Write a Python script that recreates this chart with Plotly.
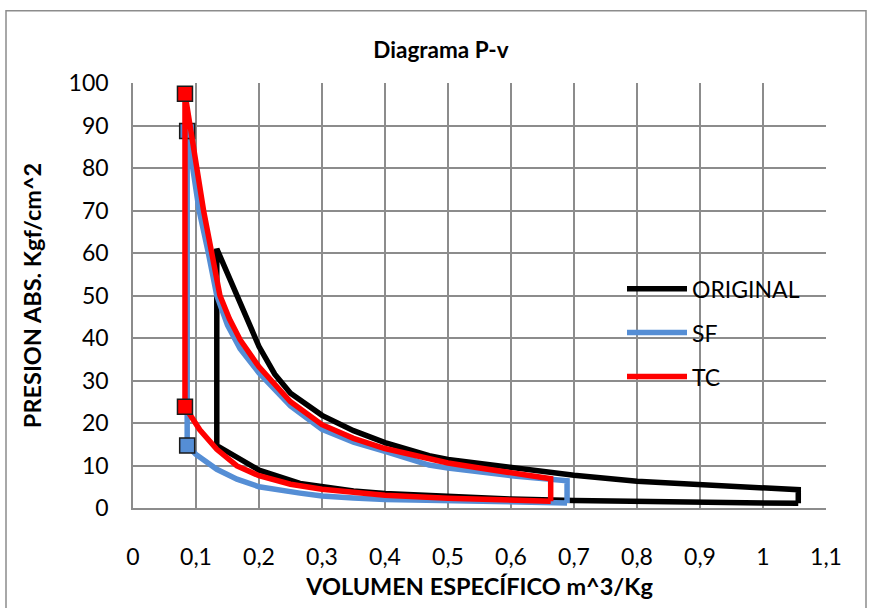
import plotly.graph_objects as go

# ---- data (v in m^3/Kg, P in Kgf/cm^2) ----
ORIG_V = [1.056, 0.9, 0.8, 0.7, 0.6, 0.5, 0.4, 0.35, 0.3, 0.265, 0.2, 0.165, 0.133,
          0.133, 0.15, 0.17, 0.2, 0.225, 0.25, 0.3, 0.35, 0.4, 0.47, 0.5, 0.6, 0.7,
          0.8, 0.9, 1.0, 1.056, 1.056]
ORIG_P = [1.1, 1.3, 1.5, 1.75, 2.1, 2.7, 3.4, 4.0, 4.9, 5.8, 8.9, 11.8, 14.7,
          61, 55, 48, 38, 31.5, 27, 21.8, 18.2, 15.4, 12.3, 11.4, 9.4, 7.7,
          6.3, 5.4, 4.7, 4.3, 1.1]

SF_V = [0.689, 0.6, 0.5, 0.4, 0.35, 0.3, 0.265, 0.2, 0.165, 0.133, 0.1, 0.086,
        0.086, 0.0958, 0.105, 0.1196, 0.133, 0.15, 0.17, 0.2, 0.25, 0.3, 0.35,
        0.4, 0.47, 0.5, 0.6, 0.689, 0.689]
SF_P = [1.2, 1.35, 1.6, 2.0, 2.35, 2.8, 3.5, 5.0, 6.8, 9.1, 12.6, 14.7,
        88.7, 80, 70, 60, 50, 43, 37.5, 31.8, 24, 18.5, 15.5,
        13.3, 10.1, 9.4, 7.6, 6.4, 1.2]
SF_MARK = [11, 12]

TC_V = [0.663, 0.6, 0.5, 0.4, 0.35, 0.3, 0.25, 0.2, 0.165, 0.133, 0.106, 0.0825,
        0.0825, 0.0905, 0.101, 0.112, 0.125, 0.138, 0.153, 0.17, 0.2, 0.25, 0.3,
        0.35, 0.4, 0.45, 0.5, 0.55, 0.6, 0.663, 0.663]
TC_P = [1.6, 1.8, 2.3, 3.0, 3.6, 4.4, 5.6, 7.6, 9.9, 13.8, 18.4, 23.8,
        97.5, 90, 80, 70, 60, 50, 44.5, 39.6, 33.2, 25, 19.6,
        16.4, 14.0, 12.2, 10.6, 9.4, 8.3, 6.9, 1.6]
TC_MARK = [11, 12]

X_TICKS = [0, 0.1, 0.2, 0.3, 0.4, 0.5, 0.6, 0.7, 0.8, 0.9, 1.0, 1.1]
X_LABELS = ["0", "0,1", "0,2", "0,3", "0,4", "0,5", "0,6", "0,7", "0,8", "0,9", "1", "1,1"]
Y_TICKS = [0, 10, 20, 30, 40, 50, 60, 70, 80, 90, 100]

BLACK = "#000000"
BLUE = "#558ED5"
RED = "#FF0000"
GRID = "#8C8C8C"
FONT = "Lato, 'Open Sans', sans-serif"

fig = go.Figure()

fig.add_trace(go.Scatter(x=ORIG_V, y=ORIG_P, mode="lines", name="ORIGINAL",
                         line=dict(color=BLACK, width=5.5), legendgroup="a"))
fig.add_trace(go.Scatter(x=SF_V, y=SF_P, mode="lines", name="SF",
                         line=dict(color=BLUE, width=5.5), legendgroup="b"))
fig.add_trace(go.Scatter(x=[SF_V[i] for i in SF_MARK], y=[SF_P[i] for i in SF_MARK],
                         mode="markers", showlegend=False, hoverinfo="skip",
                         marker=dict(symbol="square", size=15, color=BLUE,
                                     line=dict(color="#1a1a1a", width=1.5))))
fig.add_trace(go.Scatter(x=TC_V, y=TC_P, mode="lines", name="TC",
                         line=dict(color=RED, width=5.5), legendgroup="c"))
fig.add_trace(go.Scatter(x=[TC_V[i] for i in TC_MARK], y=[TC_P[i] for i in TC_MARK],
                         mode="markers", showlegend=False, hoverinfo="skip",
                         marker=dict(symbol="square", size=15, color=RED,
                                     line=dict(color="#1a1a1a", width=1.5))))

W, H = 871, 608
L, T = 133, 83
R = W - 826
B = H - 512
pw, ph = W - L - R, H - T - B


def px_x(p):  # window pixel -> paper
    return (p - L) / pw


def px_y(p):
    return (H - B - p) / ph


fig.update_layout(
    width=W, height=H,
    margin=dict(l=L, r=R, t=T, b=B),
    paper_bgcolor="white", plot_bgcolor="white",
    font=dict(family=FONT, size=23, color="black"),
    title=dict(text="<b>Diagrama P-v</b>", x=441 / W, xanchor="center",
               y=1 - 50 / H, yanchor="middle", font=dict(size=22.5, family=FONT)),
    xaxis=dict(range=[0, 1.1], tickvals=X_TICKS, ticktext=X_LABELS,
               showgrid=True, gridcolor=GRID, gridwidth=1.5,
               showline=True, linecolor=GRID, linewidth=1.5, zeroline=False,
               ticks="outside", ticklen=28, tickcolor="rgba(0,0,0,0)",
               tickfont=dict(size=23),
               title=dict(text="<b>VOLUMEN ESPECÍFICO m^3/Kg</b>", standoff=9,
                          font=dict(size=23.5))),
    yaxis=dict(range=[0, 100], tickvals=Y_TICKS,
               showgrid=True, gridcolor=GRID, gridwidth=1.5,
               showline=True, linecolor=GRID, linewidth=1.5, zeroline=False,
               ticks="outside", ticklen=18, tickcolor="rgba(0,0,0,0)",
               tickfont=dict(size=23),
               title=dict(text="<b>PRESION ABS. Kgf/cm^2</b>", standoff=20,
                          font=dict(size=23.5))),
    legend=dict(x=px_x(622), y=px_y(269), xanchor="left", yanchor="top",
                bgcolor="rgba(0,0,0,0)", font=dict(size=23),
                tracegroupgap=11, itemwidth=60),
    showlegend=True,
    shapes=[dict(type="rect", xref="paper", yref="paper",
                 x0=px_x(6), x1=px_x(866), y0=px_y(625), y1=px_y(10),
                 line=dict(color=GRID, width=1.5), fillcolor="rgba(0,0,0,0)",
                 layer="below")],
)

fig.write_html("out.html",
               config={"displayModeBar": False},
               post_script="document.body.style.margin='0px';"
                           "document.body.style.overflow='hidden';")
